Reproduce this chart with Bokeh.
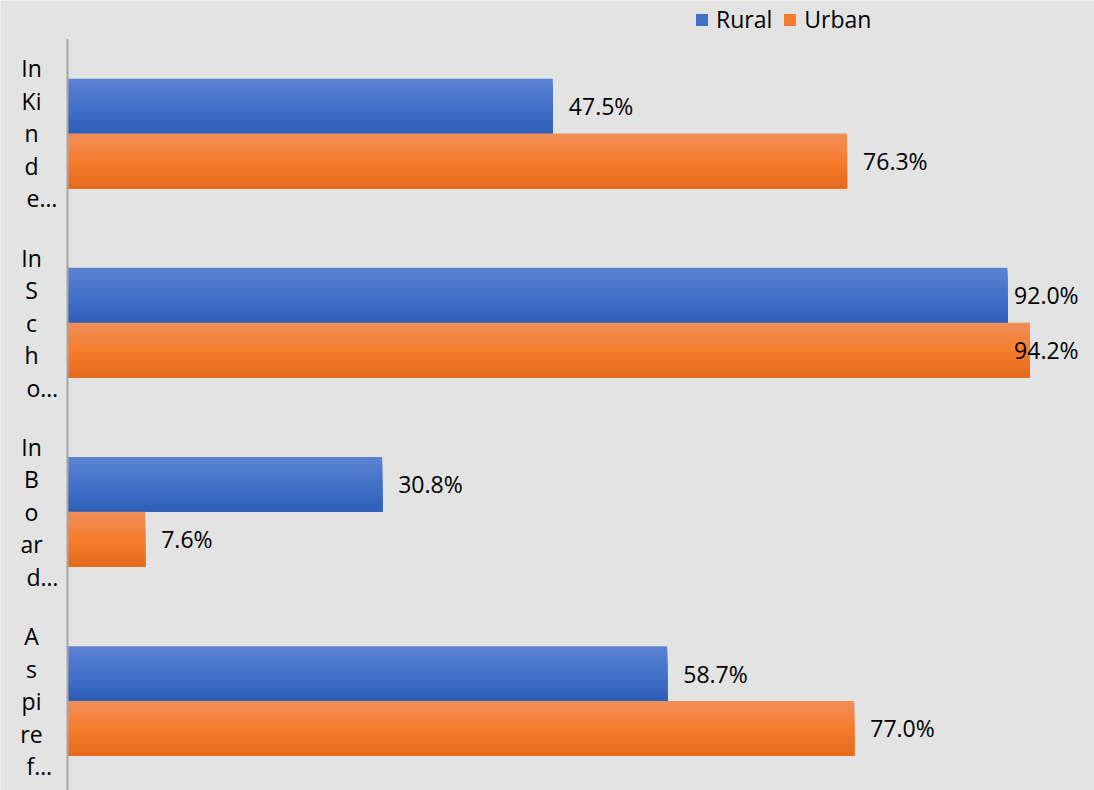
from bokeh.plotting import figure
from bokeh.models import Range1d, Legend, LegendItem, ColumnDataSource
from bokeh.embed import file_html
from bokeh.resources import INLINE
from bokeh.core.properties import value

# ---- data ----
category_lines = [
    ["In", "Ki", "n", "d", "e…"],
    ["In", "S", "c", "h", "o…"],
    ["In", "B", "o", "ar", "d…"],
    ["A", "s", "pi", "re", "f…"],
]
series_names = ["Rural", "Urban"]
rural = [47.5, 92.0, 30.8, 58.7]
urban = [76.3, 94.2, 7.6, 77.0]

# ---- style ----
FONT = "Open Sans"
FS = "23px"
BG = "#e3e3e3"
BLUE_STOPS = [(93, 131, 209), (67, 114, 201), (46, 95, 184)]
ORANGE_STOPS = [(241, 142, 90), (245, 125, 44), (229, 106, 28)]
BAR_H = 0.29
N_STRIPS = 16

idx = list(range(len(category_lines)))

p = figure(width=1094, height=790, output_backend="svg", toolbar_location=None,
           x_axis_type=None, y_axis_type=None, min_border=0,
           x_range=Range1d(-6.558, 100.52), y_range=Range1d(3.473, -0.703))
p.outline_line_color = None
p.background_fill_color = BG
p.border_fill_color = BG


def interp(stops, t):
    if t <= 0.5:
        a, b, u = stops[0], stops[1], t / 0.5
    else:
        a, b, u = stops[1], stops[2], (t - 0.5) / 0.5
    c = [round(a[i] + (b[i] - a[i]) * u) for i in range(3)]
    return "#%02x%02x%02x" % tuple(c)


def gradient_bars(values, top_offset, stops):
    mid_renderer = None
    for k in range(N_STRIPS):
        t0 = k / N_STRIPS
        tops = [i + top_offset + t0 * BAR_H for i in idx]
        bottom = [i + top_offset + BAR_H for i in idx]
        ys = [(a + b) / 2 for a, b in zip(tops, bottom)]
        hs = [b - a for a, b in zip(tops, bottom)]
        src = ColumnDataSource(dict(y=ys, h=hs, right=values))
        color = interp(stops, (k + 0.5) / N_STRIPS)
        r = p.hbar(y="y", height="h", left=0, right="right", source=src,
                   fill_color=color, line_color=None)
        if k == N_STRIPS // 2:
            mid_renderer = r
    return mid_renderer


r_rural = gradient_bars(rural, -BAR_H, BLUE_STOPS)
r_urban = gradient_bars(urban, 0.0, ORANGE_STOPS)

# axis line
p.segment(x0=[0], y0=[-0.5], x1=[0], y1=[len(idx) - 0.5], line_color="#a6a6a6", line_width=2)

# category labels (wrapped lines)
LINE_SP = 32.5
n_lines = len(category_lines[0])
for k in range(n_lines):
    texts = [lines[k] for lines in category_lines]
    last = (k == n_lines - 1)
    p.text(x=[0] * len(idx), y=idx, text=texts,
           x_offset=-41 if last else -36,
           y_offset=(k - (n_lines - 1) / 2) * LINE_SP,
           text_align="left" if last else "center", text_baseline="middle",
           text_font=value(FONT), text_font_size=FS, text_color="#000000")

# value labels
def value_labels(values, center_offset):
    xs = [min(v + 1.57, 92.65) for v in values]
    p.text(x=xs, y=[i + center_offset for i in idx],
           text=["%.1f%%" % v for v in values],
           text_align="left", text_baseline="middle",
           text_font=value(FONT), text_font_size=FS, text_color="#000000")

value_labels(rural, -BAR_H / 2)
value_labels(urban, BAR_H / 2)

legend = Legend(items=[LegendItem(label=series_names[0], renderers=[r_rural]),
                       LegendItem(label=series_names[1], renderers=[r_urban])],
                location=(694, 755), orientation="horizontal",
                glyph_width=15, glyph_height=15, label_standoff=7, spacing=10,
                padding=0, margin=0, border_line_color=None,
                background_fill_alpha=0,
                label_text_font=FONT, label_text_font_size=FS, label_text_color="#000000")
p.add_layout(legend)

open("out.html", "w").write(file_html(p, INLINE))
